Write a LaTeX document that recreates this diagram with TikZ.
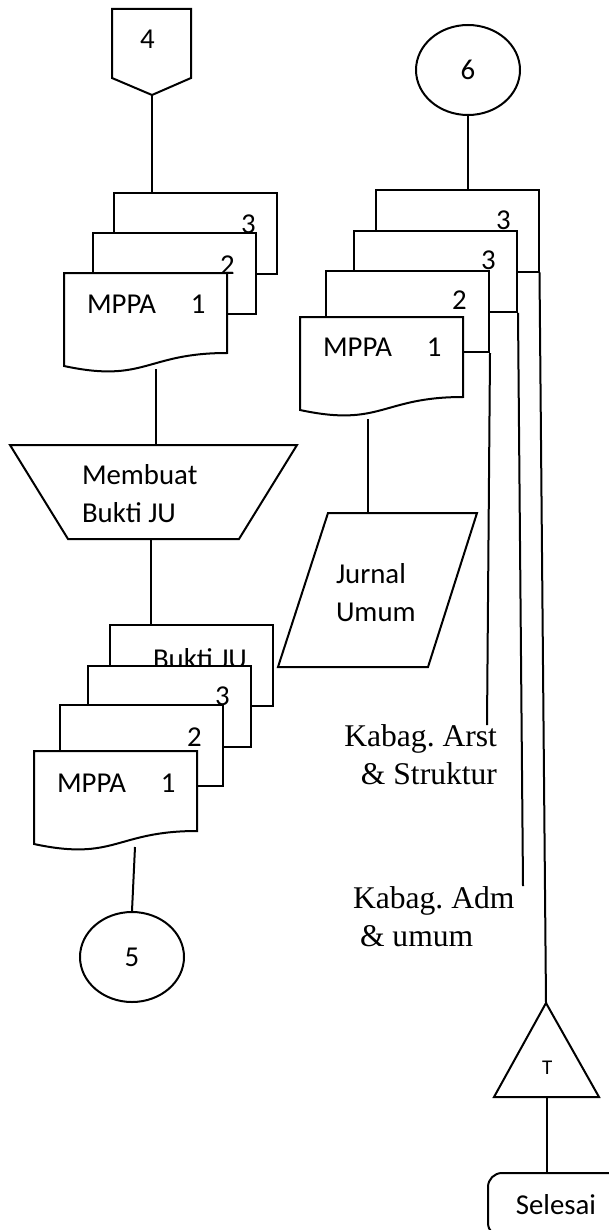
\documentclass[tikz,border=0pt]{standalone}
\usepackage{fontspec}
\setmainfont{Carlito}
\newfontfamily\serifkb{Liberation Serif}
\usetikzlibrary{shapes.geometric}
\frenchspacing

\begin{document}
\begin{tikzpicture}[x=0.5pt,y=-0.5pt,line width=1pt,font=\fontsize{14.4}{19}\selectfont,
  every node/.style={inner sep=0pt},
  page/.style={draw,fill=white,minimum width=81.5pt,minimum height=40.5pt},
  txt/.style={anchor=base west},
  conn/.style={draw,ellipse,minimum width=52pt,minimum height=45pt},
  recv/.style={align=left,font=\serifkb\fontsize{15.8}{19}\selectfont}]
  \useasboundingbox (0,0) rectangle (609,1230);
  \fill[white] (0,0) rectangle (609,1230);
  \clip (0,0) rectangle (609,1230);

  % kolom kiri
  \draw (112,9) -- (191,9) -- (191,78) -- (152,95) -- (112,78) -- cycle;
  \coordinate (c4tip) at (152,95);
  \node[txt] (c4) at (139,49) {4};

  \node[page] (lp3) at (195,233.5) {};
  \node[txt] at (240,234) {3};
  \node[page] (lp2) at (174,273.5) {};
  \node[txt] at (219,274) {2};
  \draw[fill=white] (64,273) -- (227,273) -- (227,353) .. controls (145.5,353) and (145.5,383.5) .. (64,366) -- cycle;
  \node[txt] (lp1) at (86,313) {MPPA\hspace{17.5pt}1};
  \coordinate (lp1bot) at (156,369);

  \draw (10,445) -- (297,445) -- (239,539) -- (68,539) -- cycle;
  \coordinate (mbN) at (156,445);
  \coordinate (mbS) at (151,539);
  \node[txt,align=left] (mb) at (81,522) {Membuat\\Bukti JU};

  \node[page] (bbju) at (191.5,665.5) {};
  \node[txt] at (152,668) {Bukti JU};
  \node[page] (bb3) at (169.5,706) {};
  \node[txt] at (214,705) {3};
  \node[page] (bb2) at (141.5,745.5) {};
  \node[txt] at (186,746) {2};
  \draw[fill=white] (34,751) -- (197,751) -- (197,831) .. controls (115.5,831) and (115.5,861.5) .. (34,844) -- cycle;
  \node[txt] (bb1) at (56,792) {MPPA\hspace{17.5pt}1};
  \coordinate (bb1bot) at (135,847);

  \node[conn] (c5) at (132,957) {5};

  \draw (c4tip) -- (c4tip |- lp3.north);
  \draw (lp1bot) -- (mbN);
  \draw (mbS) -- (mbS |- bbju.north);
  \draw (bb1bot) -- (c5.north);

  % kolom kanan
  \node[conn] (c6) at (468,70) {6};

  \node[page] (rp3a) at (457,231) {};
  \node[txt] at (495,229) {3};
  \node[page] (rp3b) at (435.5,271.5) {};
  \node[txt] at (480,269) {3};
  \node[page] (rp2) at (407.5,311.5) {};
  \node[txt] at (451,309) {2};
  \draw[fill=white] (300,317) -- (463,317) -- (463,397) .. controls (381.5,397) and (381.5,427.5) .. (300,410) -- cycle;
  \node[txt] (rp1) at (322,356) {MPPA\hspace{17.5pt}1};
  \coordinate (rp1bot) at (368,419);

  \draw (328,513) -- (477,513) -- (428,667) -- (278,667) -- cycle;
  \coordinate (juN) at (368,513);
  \node[txt,align=left] (ju) at (335,621) {Jurnal\\Umum};

  \coordinate (kArst) at (487,725);
  \coordinate (kAdm) at (523,886);
  \node[recv,align=right,anchor=north east] (arst) at (498,723.5) {Kabag. Arst\\\& Struktur};
  \node[recv,anchor=north west] (adm) at (352,885.5) {Kabag. Adm\\\hspace*{3.5pt}\& umum};

  \draw (494,1097) -- (546,1003) -- (599,1097) -- cycle;
  \coordinate (triA) at (546,1003);
  \coordinate (triB) at (547,1097);
  \node[txt,font=\fontsize{10.5}{12}\selectfont] (tt) at (541,1074) {T};

  \node[draw,rounded corners=7pt,minimum width=68pt,minimum height=32pt] (sel) at (556,1205) {Selesai};

  \draw (c6.south) -- (c6.south |- rp3a.north);
  \draw (rp1bot) -- (juN);
  \draw (rp2.south east) -- (kArst);
  \draw (rp3b.south east) -- (kAdm);
  \draw (rp3a.south east) -- (triA);
  \draw (triB) -- (triB |- sel.north);
\end{tikzpicture}
\end{document}
